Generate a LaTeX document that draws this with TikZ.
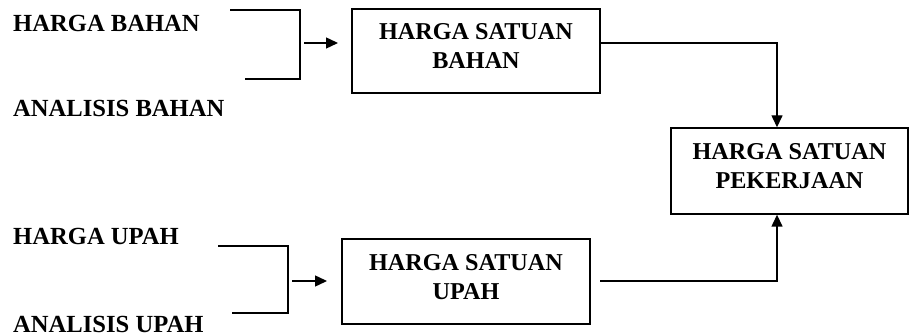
\documentclass[tikz,border=0pt]{standalone}
\usepackage{fontspec}
\setmainfont{Liberation Serif}
\usetikzlibrary{arrows.meta}
\newcommand{\lowdepth}{\rule[-10pt]{0pt}{10pt}}
\begin{document}
\begin{tikzpicture}[x=1pt,y=-1pt,
  txt/.style={font=\fontsize{24.6}{29}\selectfont\bfseries, inner sep=0pt, anchor=base west},
  boxnode/.style={draw, line width=1.4pt, font=\fontsize{24.2}{29}\selectfont\bfseries, align=center, inner sep=0pt},
  ln/.style={line width=1.4pt},
  arr/.style={line width=1.4pt, -{Triangle[length=12pt,width=11pt]}}]
\useasboundingbox (0,0) rectangle (909,336);
% left labels
\node[txt] (hb) at (13,32) {HARGA BAHAN};
\node[txt] (ab) at (13,117) {ANALISIS BAHAN};
\node[txt] (hu) at (13,245) {HARGA UPAH};
\node[txt] (au) at (13,332) {ANALISIS UPAH};
% boxes
\node[boxnode, minimum width=248pt, minimum height=84pt] (b1) at (476,51) {HARGA SATUAN\\BAHAN\lowdepth};
\node[boxnode, minimum width=248pt, minimum height=85pt] (b2) at (466,281.5) {HARGA SATUAN\\UPAH\lowdepth};
\node[boxnode, minimum width=237pt, minimum height=86pt] (b3) at (789.5,171) {HARGA SATUAN\\PEKERJAAN\lowdepth};
% bracket 1
\coordinate (t1a) at (230,10);
\coordinate (t1b) at (300,10);
\coordinate (t1c) at (300,79);
\coordinate (t1d) at (245,79);
\draw[ln] (t1a) -- (t1b) -- (t1c) -- (t1d);
\coordinate (m1) at (304,43);
\coordinate (e1) at (338,43);
\draw[arr] (m1) -- (e1);
% bracket 2
\coordinate (t2a) at (218,246);
\coordinate (t2b) at (288,246);
\coordinate (t2c) at (288,313);
\coordinate (t2d) at (232,313);
\draw[ln] (t2a) -- (t2b) -- (t2c) -- (t2d);
\coordinate (m2) at (292,281);
\coordinate (e2) at (327,281);
\draw[arr] (m2) -- (e2);
% connectors to b3
\coordinate (j1) at (777,43);
\draw[arr] (b1.east |- j1) -- (j1) -- (j1 |- b3.north);
\coordinate (s2) at (600,281);
\coordinate (j2) at (777,281);
\draw[arr] (s2) -- (j2) -- (j2 |- b3.south);
\end{tikzpicture}
\end{document}
